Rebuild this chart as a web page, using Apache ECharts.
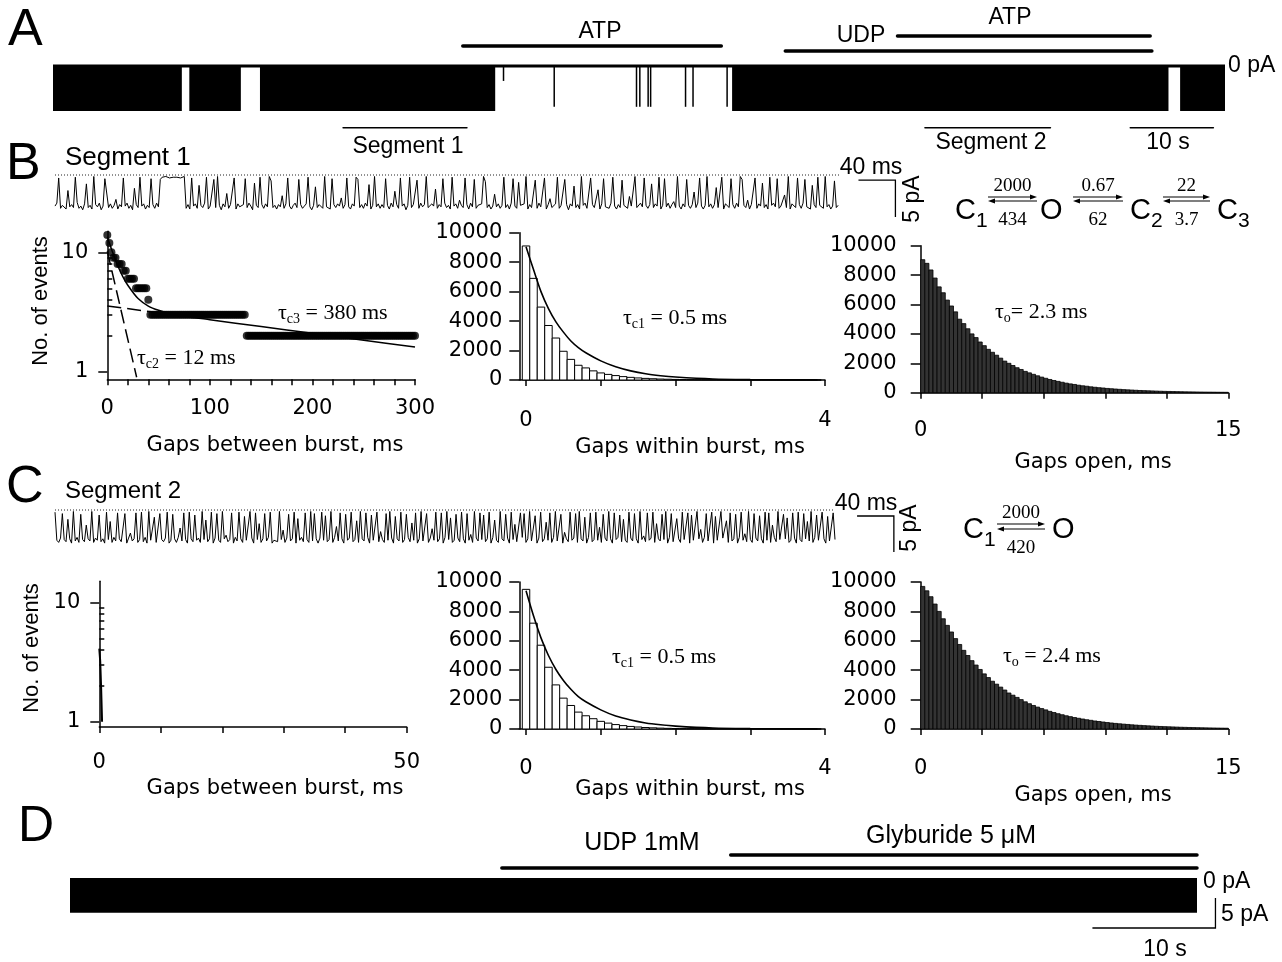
<!DOCTYPE html>
<html><head><meta charset="utf-8">
<script src="https://cdn.jsdelivr.net/npm/echarts@6/dist/echarts.min.js"></script>
<style>html,body{margin:0;padding:0;background:#fff}#c{width:1282px;height:962px}</style>
</head><body><div id="c"></div>
<script>
// ================= DATA =================
// Panel A (time in s, current in pA; 0 = closed level)
const traceA_span = [0, 141];
const traceA_levels = [0, -5.4];                       // closed, open
const traceA_active = [[0,15.5],[16.4,22.6],[24.9,53.2],[81.7,134.2],[135.6,141]];
const traceA_openings = [[54.2,-1.8],[60.3,-4.9],[70.2,-4.9],[70.6,-4.9],[71.6,-4.9],[71.9,-4.9],[76.1,-4.9],[77.0,-4.9],[81.1,-4.9]];
const appA = [[49.3,80.4,2.38],[88.1,132.2,1.78],[101.6,132.0,3.58]];   // ATP, UDP, ATP
const marksA = [[34.9,49.8,-7.4],[104.9,120.0,-7.4],[129.6,139.6,-7.4]]; // Segment 1, Segment 2, 10 s

// Segment traces (sampled every 2 ms, pA)
const segDt = 2;
const seg1 = [
-4.2,-3.8,-0.4,-4.5,-4.1,-3.9,-4.6,-2.1,-4.3,-4.0,-4.4,-0.3,-3.7,-4.5,-4.2,-4.7,-3.9,-1.2,-4.4,-4.1,
-4.6,-0.2,-4.0,-4.3,-3.8,-4.7,-4.2,-0.5,-0.7,-4.4,-3.9,-4.5,-4.1,-3.3,-4.6,-4.0,-4.3,-0.4,-4.2,-3.8,
-4.5,-4.1,-4.7,-1.8,-4.0,-4.4,-0.3,-4.2,-3.9,-4.6,-4.1,-4.4,-0.5,-4.0,-4.5,-3.8,-4.3,-0.6,-0.3,-0.4,
-0.2,-0.3,-0.4,-0.2,-0.3,-0.5,-0.3,-0.2,-0.4,-0.3,-0.2,-4.5,-4.0,-4.6,-0.4,-4.2,-3.9,-4.5,-1.4,-4.1,
-4.4,-3.8,-0.3,-4.6,-4.2,-4.0,-0.6,-4.4,-0.2,-4.1,-4.7,-3.9,-4.3,-2.5,-4.5,-4.0,-4.2,-0.4,-4.6,-3.9,
-4.3,-4.5,-4.0,-0.5,-4.4,-3.8,-4.2,-4.7,-1.1,-4.1,-4.4,-0.3,-4.0,-4.5,-3.9,-4.3,-0.2,-0.8,-4.4,-4.1,
-4.6,-4.0,-4.3,-2.8,-4.5,-3.9,-0.4,-4.2,-4.6,-4.1,-3.8,-4.4,-0.6,-4.0,-4.5,-4.2,-3.9,-0.3,-4.3,-4.7,
-4.1,-1.6,-4.4,-4.0,-3.8,-4.5,-0.2,-4.3,-4.1,-4.6,-0.5,-4.0,-4.4,-3.9,-4.2,-3.1,-4.5,-4.0,-0.4,-4.3,
-4.6,-3.9,-4.2,-0.3,-0.6,-4.4,-4.0,-4.5,-3.8,-4.2,-1.3,-4.6,-4.1,-0.2,-4.3,-3.9,-4.5,-4.0,-4.4,-0.5,
-4.1,-4.6,-3.8,-4.3,-2.2,-4.0,-4.5,-0.4,-4.2,-3.9,-4.7,-4.1,-0.3,-4.4,-4.0,-4.2,-0.7,-4.5,-3.8,-4.3,
-4.0,-0.2,-4.4,-4.6,-3.9,-4.2,-1.9,-4.5,-4.0,-4.3,-0.5,-3.8,-4.4,-4.1,-4.6,-0.3,-4.2,-3.9,-4.5,-3.4,
-4.1,-4.4,-0.4,-4.0,-4.6,-3.8,-4.3,-0.6,-4.5,-4.1,-4.2,-3.9,-0.2,-0.9,-4.4,-4.0,-4.6,-4.2,-2.6,-4.3,
-3.9,-4.5,-4.1,-0.3,-4.4,-4.0,-4.6,-3.8,-0.5,-4.2,-4.5,-1.0,-4.1,-4.3,-3.9,-0.2,-4.6,-4.0,-4.4,-4.2,
-0.7,-4.5,-3.8,-4.3,-4.1,-0.4,-4.6,-4.0,-3.2,-4.4,-4.2,-3.9,-0.3,-4.5,-4.1,-4.3,-0.6,-4.0,-4.7,-3.9,
-4.2,-1.5,-4.4,-4.0,-4.6,-0.2,-4.1,-3.8,-4.5,-4.3,-0.4,-4.0,-4.4,-4.2,-2.0,-4.6,-3.9,-0.5,-4.3,-4.1,
-4.5,-3.8,-0.3,-4.2,-4.6,-4.0,-4.4,-0.7,-4.1,-3.9,-4.5,-2.9,-4.2,-4.0,-0.2,-4.4,-4.6,-3.8,-4.3,-0.4,
-4.1,-4.5,-4.0,-1.2,-4.4,-3.9,-4.2,-0.3,-4.6,-4.1,-0.5,-4.3,-3.8,-4.5,-4.0,-3.6,-4.4,-0.2,-4.2,-4.6,
-3.9,-4.3,-0.6,-4.1,-4.5,-4.0,-2.3,-4.4,-3.8,-0.4,-4.2,-4.6,-4.1,-0.2,-4.3,-3.9,-4.5,-4.0,-1.7,-4.4,
-4.2,-0.3,-4.6,-3.9,-4.1,-4.4,-0.5,-4.0,-4.5,-3.8,-4.3,-0.2,-0.6,-4.1,-4.4,-3.4,-4.6,-4.0,-4.2,-0.4,
-4.5,-3.9,-4.2,-1.1,-4.4,-4.0,-4.6,-0.3,-4.1,-3.8,-4.3,-0.5,-4.5,-4.2,-4.0,-2.7,-4.4,-0.2,-4.6,-3.9,
-4.1,-4.4,-0.4,-4.0,-4.5,-3.8,-0.6,-4.3,-4.2,-4.6,-1.4,-4.0,-4.4,-0.3,-4.1,-3.9,-4.5,-0.2,-4.3,-4.0,
-4.6,-4.2,-0.8,-4.4,-4.1];
const seg2 = [
-0.3,-4.2,-4.5,-3.9,-0.5,-4.1,-4.4,-1.3,-4.0,-4.6,-0.2,-4.3,-3.8,-4.5,-0.6,-4.1,-4.4,-2.1,-4.0,-4.3,
-0.2,-4.5,-3.9,-4.2,-0.7,-4.4,-4.0,-4.6,-0.3,-4.1,-1.6,-4.5,-3.8,-4.3,-0.4,-4.0,-4.4,-4.2,-0.5,-4.6,
-3.9,-3.2,-4.3,-4.0,-0.4,-4.5,-4.1,-0.3,-4.4,-3.8,-4.6,-0.2,-4.2,-4.0,-1.0,-4.5,-4.3,-0.5,-4.1,-4.4,
-3.9,-0.3,-4.6,-4.2,-0.6,-4.0,-4.5,-3.8,-2.5,-4.3,-0.4,-4.1,-4.6,-0.3,-4.0,-4.4,-0.7,-4.2,-3.9,-4.5,
-0.2,-4.1,-1.4,-4.4,-4.0,-0.3,-4.6,-3.9,-0.5,-4.2,-4.5,-0.2,-4.0,-3.5,-4.4,-4.1,-0.4,-4.6,-3.8,-4.3,
-0.3,-4.0,-4.5,-0.9,-4.2,-4.4,-0.2,-3.9,-4.6,-0.4,-4.1,-1.9,-4.5,-4.0,-0.5,-4.3,-3.8,-0.3,-4.6,-4.2,
-4.0,-4.4,-0.2,-4.1,-2.8,-4.5,-3.9,-0.6,-4.3,-4.0,-0.3,-4.6,-1.2,-4.2,-3.8,-4.4,-0.4,-4.1,-4.5,-0.2,
-4.3,-0.5,-4.0,-4.6,-3.9,-0.3,-4.2,-0.8,-4.4,-4.1,-0.2,-4.5,-3.8,-2.3,-4.3,-0.4,-4.0,-4.6,-0.6,-4.2,
-3.9,-0.3,-4.4,-4.1,-1.5,-4.5,-0.2,-4.0,-4.3,-0.4,-3.8,-4.6,-0.7,-4.2,-4.0,-0.3,-4.4,-3.0,-4.1,-4.5,
-0.5,-4.2,-0.2,-3.9,-4.6,-0.9,-4.0,-4.3,-0.3,-4.5,-4.1,-0.6,-3.8,-4.4,-1.8,-4.2,-0.4,-4.6,-4.0,-0.2,
-4.3,-4.1,-0.5,-4.5,-3.9,-2.6,-4.2,-0.3,-4.4,-4.0,-0.4,-4.6,-3.8,-0.2,-4.1,-1.1,-4.5,-4.2,-0.6,-3.9,
-4.4,-0.3,-4.0,-4.6,-0.5,-4.2,-3.4,-4.5,-0.2,-3.9,-4.3,-0.4,-4.1,-0.7,-4.4,-4.0,-0.3,-4.6,-3.8,-1.4,
-4.2,-4.5,-0.2,-4.0,-4.3,-0.6,-3.9,-4.6,-0.3,-4.1,-2.0,-4.4,-4.2,-0.4,-3.8,-0.5,-4.5,-4.0,-0.2,-4.3,
-4.1,-0.8,-4.6,-3.9,-0.3,-4.4,-4.0,-1.7,-4.2,-0.4,-4.5,-3.8,-0.2,-4.3,-4.1,-0.6,-4.6,-3.1,-4.0,-4.4,
-0.3,-4.2,-3.9,-0.5,-4.5,-0.2,-4.0,-4.3,-1.0,-4.6,-3.8,-0.4,-4.4,-4.1,-0.3,-4.2,-2.4,-4.5,-0.6,-3.9,
-4.3,-0.2,-4.0,-4.6,-0.4,-4.1,-3.8,-0.7,-4.4,-1.3,-4.2,-4.5,-0.3,-3.9,-4.3,-0.5,-4.0,-4.6,-0.2,-4.1,
-3.6,-4.4,-0.4,-4.2,-3.9,-0.3,-4.5,-1.9,-4.0,-4.3,-0.6,-4.1,-0.2,-4.6,-3.8,-0.5,-4.4,-4.2,-1.2,-4.0,
-4.5,-0.3,-4.1,-3.9,-0.4,-4.6,-0.7,-4.2,-4.4,-0.2,-4.0,-2.7,-4.5,-3.8,-0.5,-4.3,-4.1,-0.3,-4.6,-0.9,
-4.2,-4.4,-0.2,-3.9,-4.1,-1.5,-4.5,-0.4,-4.3,-4.0,-0.6,-4.6,-3.8,-0.3,-4.2,-3.3,-4.4,-0.2,-4.1,-4.5,
-0.5,-3.9,-4.3,-0.8,-4.0,-4.6,-0.3,-4.2,-0.4,-4.5,-2.1,-3.8,-4.4,-0.2,-4.1,-4.3,-0.6,-4.0,-1.1,-4.5,
-4.2,-0.4,-3.9,-4.6,-0.3,-4.1,-4.4,-0.5,-4.0,-1.6,-4.3,-0.2,-4.5,-3.8,-0.7,-4.2,-4.4,-0.3,-4.0,-4.6,
-0.9,-4.3,-4.5,-0.4,-4.1];
const scaleBarB = [[870,-0.68,910,-0.68,910,-5.68]];   // 40 ms, 5 pA
const scaleBarC = [[872,-0.83,912,-0.83,912,-5.83]];

// Gaps between bursts, segment 1 (2-ms bins, counts)
const betweenBin = 2;
const betweenCountsB = [14,12,10,9,9,8,8,8,7,7,6,6,6,6,5,5,5,5,5,5,4,
3,3,3,3,3,3,3,3,3,3,3,3,3,3,3,3,3,3,3,3,3,3,3,3,3,3,3,3,3,3,3,3,3,3,3,3,3,3,3,3,3,3,3,3,3,3,3,
2,2,2,2,2,2,2,2,2,2,2,2,2,2,2,2,2,2,2,2,2,2,2,2,2,2,2,2,2,2,2,2,2,2,2,2,2,2,2,2,2,2,2,2,2,2,2,2,
2,2,2,2,2,2,2,2,2,2,2,2,2,2,2,2,2,2,2,2,2,2,2,2,2,2,2,2,2,2,2,2,2,2,2,2,2,2,2,2,2,2,2,2,2,2,2];
const fitBetweenB = [[0,13.5],[5,10.1],[10,7.8],[15,6.3],[20,5.3],[30,4.1],[40,3.55],[50,3.27],[60,3.1],[80,2.88],[100,2.73],[150,2.39],[200,2.1],[250,1.84],[300,1.61]];
const compSlowB = [[0,3.55],[70,2.97]];
const compFastB = [[0,10.2],[28.6,0.9]];
const fitBetweenC = [[0,4.1],[0.15,3.2],[0.3,1.9],[0.45,1.0]];

// Gaps within bursts (0.1-ms bins centred on k*0.1)
const withinBin = 0.1;
const withinB = [9100,6900,4950,3700,2850,1950,1400,1000,820,620,480,380,300,230,180,140,110,85,65,52,40,32,25,20,16,13,10,8,6,5,4,3,3,2,2,1,1,1,1,1];
const withinC = [9500,7200,5700,4200,3000,2100,1600,1150,900,700,520,400,300,230,175,135,100,80,60,45,35,27,21,16,12,9,7,6,5,4,3,3,2,2,1,1,1,1,1,1];
const fitWithinB = [[0,9050],[0.1,7500],[0.2,6000],[0.3,4850],[0.4,3950],[0.5,3250],[0.6,2650],[0.7,2200],[0.8,1850],[1.0,1300],[1.2,900],[1.4,620],[1.6,420],[1.8,290],[2.0,200],[2.5,70],[3.0,25],[3.5,9],[3.9,4]];
const fitWithinC = [[0,9400],[0.1,7700],[0.2,6200],[0.3,5000],[0.4,4050],[0.5,3300],[0.6,2700],[0.7,2200],[0.8,1850],[1.0,1300],[1.2,880],[1.4,610],[1.6,410],[1.8,285],[2.0,195],[2.5,68],[3.0,24],[3.5,8],[3.9,4]];

// Open times (0.2-ms bins from 0)
const openBin = 0.2;
const openB = [9050,8800,8350,7800,7200,6800,6300,5900,5500,5000,4700,4350,4000,3750,3450,3200,2950,2750,2550,2350,2150,2000,1850,1700,1580,1450,1350,1250,1150,1060,980,900,830,770,710,650,600,560,510,470,440,400,370,340,320,290,270,250,230,210,195,180,165,150,140,130,120,110,100,92,85,78,72,66,60,56,52,48,44,40,37,34,31,29,27];
const openC = [9700,9400,9000,8500,8000,7500,7050,6600,6150,5750,5350,5000,4650,4350,4050,3750,3500,3250,3050,2850,2650,2450,2300,2150,2000,1850,1720,1600,1490,1390,1300,1200,1120,1040,970,900,840,780,730,680,630,590,545,510,475,440,410,380,355,330,310,285,265,248,230,215,200,185,172,160,150,140,130,120,112,104,97,90,84,78,72,67,62,58,54];

// Panel D
const traceD_span = [0, 91.6];
const traceD_levels = [0, -5.8];
const traceD_active = [[0, 91.6]];
const appD = [[35.1,91.6,1.67],[53.7,91.6,3.83]];        // UDP 1mM, Glyburide 5 µM
const scaleBarD = [[83.1,-8.33,93.1,-8.33,93.1,-3.33]];   // 10 s, 5 pA

// Tick / label values
const ticksBetweenB = [0,20,40,60,80,100,120,140,160,180,200,220,240,260,280,300];
const labelsBetweenB = [0,100,200,300];
const ticksBetweenC = [0,10,20,30,40,50];
const labelsBetweenC = [0,50];
const ticksWithin = [0,1,2,3,4];
const labelsWithin = [0,4];
const ticksOpen = [0,3,6,9,12,15];
const labelsOpen = [0,15];
const logMajor = [1,10];
const logMinor = [2,3,4,5,6,7,8,9];

// Kinetic schemes
const schemeB_states = ['C1','O','C2','C3'];
const schemeB_fwd = ['2000','0.67','22'];
const schemeB_bwd = ['434','62','3.7'];
const schemeC_states = ['C1','O'];
const schemeC_fwd = ['2000'];
const schemeC_bwd = ['420'];

// ================= CHART =================
const SANS = '"Liberation Sans", Arial, Helvetica, sans-serif';
const DV = '"DejaVu Sans", sans-serif';
const SERIF = '"Liberation Serif", "Times New Roman", serif';

const grids = [
 {left:53, top:20, width:1172, height:96},
 {left:55, top:163.9, width:785, height:51.8},
 {left:107.3, top:231.3, width:307.7, height:148},
 {left:519.3, top:232.7, width:305.7, height:147.3},
 {left:920.7, top:245.7, width:307.6, height:147},
 {left:55, top:499.2, width:780, height:50.4},
 {left:99.3, top:581.3, width:307.4, height:145.6},
 {left:519.3, top:582, width:305.7, height:147},
 {left:920.7, top:582, width:307.6, height:147},
 {left:70, top:830, width:1127, height:105}
].map(g => Object.assign({containLabel:false, outerBoundsMode:'none', show:false}, g));

const axLine = {show:true, onZero:false, lineStyle:{color:'#000', width:1.5}};
const tickStyle = {color:'#000', width:1.5};
const lab = {color:'#000', fontFamily:DV, fontSize:21, formatter: v => String(v)};

function hx(gi,min,max){return {gridIndex:gi,type:'value',min,max,show:false};}
function hy(gi,min,max){return {gridIndex:gi,type:'value',min,max,show:false};}
function valX(gi,min,max,ticks,labels,margin){
  return {gridIndex:gi,type:'value',min,max,axisLine:axLine,
    axisTick:{show:true,length:6,customValues:ticks,lineStyle:tickStyle},
    axisLabel:Object.assign({show:true,customValues:labels,margin:margin},lab),
    splitLine:{show:false}};
}
function histY(gi,margin){
  return {gridIndex:gi,type:'value',min:0,max:10000,interval:2000,axisLine:axLine,
    axisTick:{show:true,length:10,lineStyle:tickStyle},
    axisLabel:Object.assign({margin:margin},lab),splitLine:{show:false}};
}
function logY(gi,min){
  return {gridIndex:gi,type:'log',logBase:10,min:min,max:15,axisLine:axLine,
    axisTick:{show:true,length:9,customValues:logMajor,lineStyle:tickStyle},
    axisLabel:Object.assign({customValues:logMajor,margin:19},lab),splitLine:{show:false}};
}
function logYMinor(gi,min){
  return {gridIndex:gi,type:'log',logBase:10,min:min,max:15,axisLine:{show:false},
    axisTick:{show:true,length:5,customValues:logMinor,lineStyle:tickStyle},
    axisLabel:{show:false},splitLine:{show:false}};
}

const xAxis = [
  hx(0,traceA_span[0],traceA_span[1]),
  hx(1,0,850),
  valX(2,0,300,ticksBetweenB,labelsBetweenB,19),
  valX(3,-0.09,4,ticksWithin,labelsWithin,30),
  valX(4,0,15,ticksOpen,labelsOpen,27),
  hx(5,0,848),
  valX(6,0,50,ticksBetweenC,labelsBetweenC,25),
  valX(7,-0.09,4,ticksWithin,labelsWithin,29),
  valX(8,0,15,ticksOpen,labelsOpen,29),
  hx(9,traceD_span[0],traceD_span[1])
];
const yAxis = [
  hy(0,-6,5.5), hy(1,-5.5,1.5), logY(2,0.865), histY(3,17), histY(4,24),
  hy(5,-5.5,1.5), logY(6,0.905), histY(7,17), histY(8,24), hy(9,-9.5,8),
  logYMinor(2,0.865), logYMinor(6,0.905)
];

// ---- renderers ----
function blockRenderer(levels){
  return function(p, api){
    const a = api.coord([api.value(0), levels[0]]);
    const b = api.coord([api.value(1), levels[1]]);
    return {type:'rect', shape:{x:a[0], y:a[1], width:b[0]-a[0], height:b[1]-a[1]}, style:{fill:'#000'}};
  };
}
function spikeRenderer(base, w){
  return function(p, api){
    const a = api.coord([api.value(0), base]);
    const b = api.coord([api.value(0), api.value(1)]);
    return {type:'line', shape:{x1:a[0],y1:a[1],x2:b[0],y2:b[1]}, style:{stroke:'#000', lineWidth:w}};
  };
}
function hbarRenderer(w){
  return function(p, api){
    const a = api.coord([api.value(0), api.value(2)]);
    const b = api.coord([api.value(1), api.value(2)]);
    return {type:'line', shape:{x1:a[0],y1:a[1],x2:b[0],y2:b[1]}, style:{stroke:'#000', lineWidth:w, lineCap:'round'}};
  };
}
function polyRenderer(w){
  return function(p, api){
    const pts = [];
    for (let i=0;i<6;i+=2) pts.push(api.coord([api.value(i), api.value(i+1)]));
    return {type:'polyline', shape:{points:pts}, style:{stroke:'#000', lineWidth:w, fill:null}};
  };
}
function binRenderer(width, fill, stroke, lw){
  return function(p, api){
    const c = api.value(0), v = api.value(1);
    const a = api.coord([c - width/2, v]);
    const b = api.coord([c + width/2, 0]);
    return {type:'rect', shape:{x:a[0], y:a[1], width:b[0]-a[0], height:b[1]-a[1]}, style:{fill:fill, stroke:stroke, lineWidth:lw}};
  };
}
const withinData = arr => arr.map((v,i) => [i*withinBin, v]);
const openData = arr => arr.map((v,i) => [(i+0.5)*openBin, v]);
const segData = arr => arr.map((v,i) => [i*segDt, v]);

function cs(xi, yi, data, renderItem, z){ return {type:'custom', xAxisIndex:xi, yAxisIndex:yi, data:data, renderItem:renderItem, clip:false, silent:true, z:z||2}; }
function ln(xi, yi, data, style, extra){ return Object.assign({type:'line', xAxisIndex:xi, yAxisIndex:yi, data:data, symbol:'none', silent:true, lineStyle:Object.assign({color:'#000', width:1}, style)}, extra||{}); }

const series = [
  // A
  cs(0,0,traceA_active,blockRenderer(traceA_levels)),
  ln(0,0,[[traceA_span[0],traceA_levels[0]],[traceA_span[1],traceA_levels[0]]],{width:3}),
  cs(0,0,traceA_openings,spikeRenderer(traceA_levels[0],1.5)),
  cs(0,0,appA,hbarRenderer(3.5)),
  cs(0,0,marksA,hbarRenderer(1.5)),
  // B trace
  ln(1,1,[[0,0],[850,0]],{type:[1,2],width:1,color:'#222'}),
  ln(1,1,segData(seg1),{width:1}),
  cs(1,1,scaleBarB,polyRenderer(1.3)),
  // B between (log)
  {type:'scatter', xAxisIndex:2, yAxisIndex:2, data:betweenCountsB.map((v,i)=>[i*betweenBin, v]), symbolSize:8, itemStyle:{color:'#000'}, silent:true},
  ln(2,2,fitBetweenB,{width:1.5},{smooth:0.3}),
  ln(2,2,compSlowB,{width:1.5,type:[14,6]}),
  ln(2,2,compFastB,{width:1.5,type:[14,6]}),
  // B within
  cs(3,3,withinData(withinB),binRenderer(withinBin,'#fff','#000',1)),
  ln(3,3,fitWithinB,{width:1.6},{smooth:0.3, z:5}),
  // B open
  cs(4,4,openData(openB),binRenderer(openBin,'#333','#000',0.8)),
  // C trace
  ln(5,5,[[0,0],[848,0]],{type:[1,2],width:1,color:'#222'}),
  ln(5,5,segData(seg2),{width:1}),
  cs(5,5,scaleBarC,polyRenderer(1.3)),
  // C between (log)
  ln(6,6,fitBetweenC,{width:2}),
  // C within
  cs(7,7,withinData(withinC),binRenderer(withinBin,'#fff','#000',1)),
  ln(7,7,fitWithinC,{width:1.6},{smooth:0.3, z:5}),
  // C open
  cs(8,8,openData(openC),binRenderer(openBin,'#333','#000',0.8)),
  // D
  cs(9,9,traceD_active,blockRenderer(traceD_levels)),
  cs(9,9,appD,hbarRenderer(3.5)),
  cs(9,9,scaleBarD,polyRenderer(1.3))
];

// ---- texts ----
function T(x,y,text,o){
  o = o || {};
  const st = {text:text, fill:'#000', fontFamily:o.ff||SANS, fontSize:o.fs||23, align:o.al||'center', verticalAlign:'middle'};
  if (o.rich) st.rich = o.rich;
  return {type:'text', x:x, y:y, rotation:o.rot||0, style:st, z:100, silent:true};
}
const tauRich = {
  t:{fontFamily:SERIF, fontSize:22, lineHeight:27, verticalAlign:'middle'},
  s:{fontFamily:SERIF, fontSize:14, lineHeight:14, verticalAlign:'bottom'}
};
function scheme(states, fwd, bwd, L){
  const g = [];
  states.forEach((s,i) => {
    g.push(T(L.sx[i], L.y, s[0], {al:'left', fs:29}));
    if (s.length > 1) g.push(T(L.sx[i]+21, L.y+10, s.slice(1), {al:'left', fs:21}));
  });
  fwd.forEach((r,i) => {
    const a0 = L.ax[i][0], a1 = L.ax[i][1], m = (a0+a1)/2;
    g.push({type:'line', shape:{x1:a0,y1:L.yt,x2:a1-5,y2:L.yt}, style:{stroke:'#000',lineWidth:1.2}, z:100});
    g.push({type:'polygon', shape:{points:[[a1,L.yt],[a1-7,L.yt-2.5],[a1-7,L.yt+2.5]]}, style:{fill:'#000'}, z:100});
    g.push({type:'line', shape:{x1:a0+5,y1:L.yb,x2:a1,y2:L.yb}, style:{stroke:'#000',lineWidth:1.2}, z:100});
    g.push({type:'polygon', shape:{points:[[a0,L.yb],[a0+7,L.yb-2.5],[a0+7,L.yb+2.5]]}, style:{fill:'#000'}, z:100});
    g.push(T(m, L.yt-11, r, {ff:SERIF, fs:19}));
    g.push(T(m, L.yb+19, bwd[i], {ff:SERIF, fs:19}));
  });
  return g;
}

const graphic = [
  // A
  T(8,31,'A',{al:'left',fs:52}),
  T(600,32,'ATP'), T(861,36,'UDP'), T(1010,18,'ATP'),
  T(1228,66,'0 pA',{al:'left'}),
  T(408,147,'Segment 1'), T(991,143,'Segment 2'), T(1168,143,'10 s'),
  // B
  T(6,165,'B',{al:'left',fs:52}),
  T(65,158,'Segment 1',{al:'left',fs:26}),
  T(871,168,'40 ms'),
  T(913,199,'5 pA',{rot:Math.PI/2,fs:23}),
  T(41,301,'No. of events',{rot:Math.PI/2,fs:22}),
  T(275,446,'Gaps between burst, ms',{ff:DV,fs:21}),
  T(690,448,'Gaps within burst, ms',{ff:DV,fs:21}),
  T(1093,463,'Gaps open, ms',{ff:DV,fs:21}),
  T(278,313,'{t|τ}{s|c3}{t| = 380 ms}',{al:'left',rich:tauRich,ff:SERIF,fs:22}),
  T(137,358,'{t|τ}{s|c2}{t| = 12 ms}',{al:'left',rich:tauRich,ff:SERIF,fs:22}),
  T(623,318,'{t|τ}{s|c1}{t| = 0.5 ms}',{al:'left',rich:tauRich,ff:SERIF,fs:22}),
  T(995,312,'{t|τ}{s|o}{t|= 2.3 ms}',{al:'left',rich:tauRich,ff:SERIF,fs:22}),
  // C
  T(6,488,'C',{al:'left',fs:52}),
  T(65,491,'Segment 2',{al:'left',fs:24}),
  T(866,504,'40 ms'),
  T(910,528,'5 pA',{rot:Math.PI/2,fs:23}),
  T(32,648,'No. of events',{rot:Math.PI/2,fs:22}),
  T(275,789,'Gaps between burst, ms',{ff:DV,fs:21}),
  T(690,790,'Gaps within burst, ms',{ff:DV,fs:21}),
  T(1093,796,'Gaps open, ms',{ff:DV,fs:21}),
  T(612,657,'{t|τ}{s|c1}{t| = 0.5 ms}',{al:'left',rich:tauRich,ff:SERIF,fs:22}),
  T(1003,656,'{t|τ}{s|o}{t| = 2.4 ms}',{al:'left',rich:tauRich,ff:SERIF,fs:22}),
  // D
  T(18,827,'D',{al:'left',fs:50}),
  T(642,843,'UDP 1mM',{fs:25}),
  T(951,836,'Glyburide 5 μM',{fs:25}),
  T(1203,882,'0 pA',{al:'left',fs:23}),
  T(1221,915,'5 pA',{al:'left',fs:23}),
  T(1165,950,'10 s',{fs:23})
].concat(
  scheme(schemeB_states, schemeB_fwd, schemeB_bwd, {sx:[955,1040,1130,1217], ax:[[988,1037],[1073,1123],[1163,1210]], y:211, yt:197, yb:201}),
  scheme(schemeC_states, schemeC_fwd, schemeC_bwd, {sx:[963,1052], ax:[[997,1045]], y:530, yt:524, yb:529})
);

const chart = echarts.init(document.getElementById('c'), null, {renderer:'canvas', width:1282, height:962});
chart.setOption({
  animation:false,
  backgroundColor:'#fff',
  grid:grids, xAxis:xAxis, yAxis:yAxis, series:series, graphic:graphic
});
</script>
</body></html>
